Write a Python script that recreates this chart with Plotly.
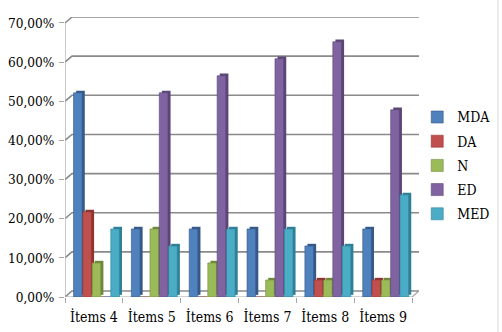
import plotly.graph_objects as go

categories = ["İtems 4", "İtems 5", "İtems 6", "İtems 7", "İtems 8", "İtems 9"]
series_names = ["MDA", "DA", "N", "ED", "MED"]
MDA = [52.17, 17.39, 17.39, 17.39, 13.04, 17.39]
DA = [21.74, 0.0, 0.0, 0.0, 4.35, 4.35]
N = [8.70, 17.39, 8.70, 4.35, 4.35, 4.35]
ED = [0.0, 52.17, 56.52, 60.87, 65.22, 47.83]
MED = [17.39, 13.04, 17.39, 17.39, 13.04, 26.09]
values = [MDA, DA, N, ED, MED]
y_ticks = [0, 10, 20, 30, 40, 50, 60, 70]
y_tick_text = ["0,00%", "10,00%", "20,00%", "30,00%", "40,00%", "50,00%", "60,00%", "70,00%"]

front_colors = ["#4F81BD", "#C0504D", "#9BBB59", "#8064A2", "#4BACC6"]
side_colors = ["#36598A", "#8E3532", "#6F883C", "#5B4677", "#2F8097"]

FONT = "DejaVu Serif Condensed, DejaVu Serif"
DEPTH_Y = 1.53
DEPTH_X = 0.12
BAR_W = 0.15
BAR_STEP = 0.161
BAR_START = -0.353

fig = go.Figure()
for i, (name, vals) in enumerate(zip(series_names, values)):
    off = BAR_START + i * BAR_STEP
    fig.add_trace(go.Bar(
        x=categories, y=vals, base=0.55, offset=off + 0.045, width=BAR_W,
        marker=dict(color=side_colors[i], line=dict(width=0)),
        showlegend=False, hoverinfo="skip", legendgroup=name))
    fig.add_trace(go.Bar(
        x=categories, y=vals, name=name, offset=off, width=BAR_W, legendgroup=name,
        marker=dict(color=front_colors[i], line=dict(width=0.6, color=side_colors[i]))))

shapes = []
grid_col = "#8a8a8a"
for v in y_ticks:
    shapes.append(dict(type="path", xref="x", yref="y", layer="below",
                       path=f"M -0.5,{v} L {-0.5+DEPTH_X},{v+DEPTH_Y} L {5.5+DEPTH_X},{v+DEPTH_Y}",
                       line=dict(color=grid_col, width=1.6)))
shapes.append(dict(type="path", xref="x", yref="y", layer="below",
                   path=f"M -0.5,0 L 5.5,0 L {5.5+DEPTH_X},{DEPTH_Y}",
                   line=dict(color="#a6a6a6", width=1.2)))
shapes.append(dict(type="line", xref="x", yref="y", layer="below",
                   x0=-0.5, x1=-0.5, y0=0, y1=70, line=dict(color="#a6a6a6", width=1.2)))
shapes.append(dict(type="line", xref="paper", yref="paper", x0=1.223, x1=1.223,
                   y0=-0.13, y1=1.07, line=dict(color="#d9d9d9", width=1)))

fig.update_layout(
    width=502, height=332,
    margin=dict(l=65, r=83, t=17, b=35, autoexpand=False),
    paper_bgcolor="white", plot_bgcolor="white",
    barmode="overlay",
    font=dict(family=FONT, size=13, color="#000000"),
    shapes=shapes,
    showlegend=True,
    legend=dict(x=0.995, xanchor="left", y=0.47, yanchor="middle",
                font=dict(family=FONT, size=14), bgcolor="rgba(0,0,0,0)",
                traceorder="grouped", tracegroupgap=3),
    xaxis=dict(type="category", range=[-0.5, 5.5 + DEPTH_X], tickson="boundaries",
               showgrid=False, zeroline=False, showline=False, automargin=False,
               ticks="outside", ticklen=5, tickcolor="#a6a6a6", ticklabelstandoff=10,
               tickangle=0, tickfont=dict(family=FONT, size=14)),
    yaxis=dict(range=[0, 70 + DEPTH_Y], tickmode="array", tickvals=y_ticks,
               ticktext=y_tick_text, showgrid=False, zeroline=False, showline=False,
               ticks="outside", ticklen=5, tickcolor="#a6a6a6", automargin=False,
               ticklabelstandoff=2, tickfont=dict(family=FONT, size=13.5)),
)

fig.write_html("out.html")
